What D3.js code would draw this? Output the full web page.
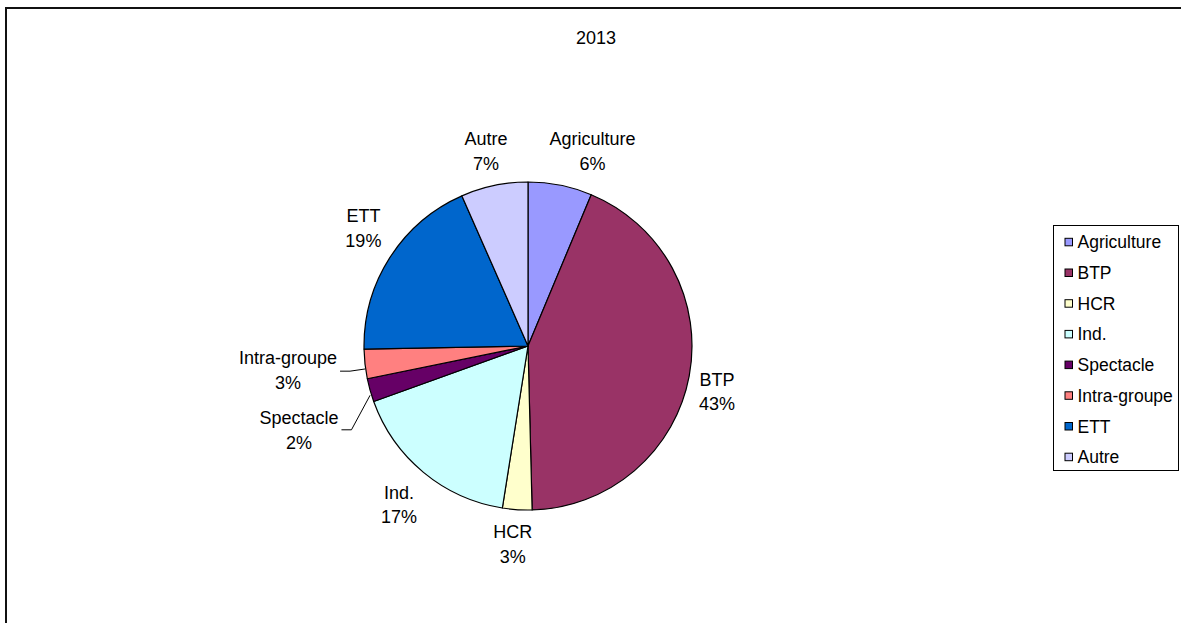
<!DOCTYPE html>
<html>
<head>
<meta charset="utf-8">
<script src="https://cdn.jsdelivr.net/npm/d3@7"></script>
<style>
  html, body { margin: 0; padding: 0; background: #fff; }
  svg { display: block; font-family: Arial, "Liberation Sans", sans-serif; }
</style>
</head>
<body>
<svg id="chart" width="1181" height="623"></svg>
<script>
// ---- data ----
const title = "2013";
const categories = ["Agriculture", "BTP", "HCR", "Ind.", "Spectacle", "Intra-groupe", "ETT", "Autre"];
const values = [6.3, 43.3, 2.9, 17.0, 2.3, 2.9, 18.7, 6.6];
const colors = ["#9999FF", "#993366", "#FFFFCC", "#CCFFFF", "#660066", "#FF8080", "#0066CC", "#CCCCFF"];
// labels manually moved in the original (small shifts, leader lines for the two small slices)
const labelNudge = { "Agriculture": [5, 0], "Autre": [7, 0], "Spectacle": [-22, 17], "Intra-groupe": [-18, -3] };
const leaderLabels = ["Spectacle", "Intra-groupe"];

// ---- layout ----
const cx = 528, cy = 346, R = 164;
const svg = d3.select("#chart");

// outer frame
svg.append("rect").attr("x", 6).attr("y", 8).attr("width", 1400).attr("height", 800)
  .attr("fill", "none").attr("stroke", "#111").attr("stroke-width", 2);

// title
svg.append("text").attr("x", 596).attr("y", 44).attr("text-anchor", "middle")
  .attr("font-size", 18).attr("fill", "#000").text(title);

const data = categories.map((c, i) => ({ name: c, v: values[i], color: colors[i] }));
const total = d3.sum(values);
const pie = d3.pie().sort(null).value(d => d.v);
const arcs = pie(data);
const arc = d3.arc().innerRadius(0).outerRadius(R);

const g = svg.append("g").attr("transform", `translate(${cx},${cy})`);
g.selectAll("path.slice").data(arcs).enter().append("path")
  .attr("class", "slice")
  .attr("d", arc)
  .attr("fill", d => d.data.color)
  .attr("stroke", "#000").attr("stroke-width", 1.2).attr("stroke-linejoin", "round");

// data labels
const clamp = v => Math.max(-1, Math.min(1, v));
const lineH = 24.5;
arcs.forEach(d => {
  const a = (d.startAngle + d.endAngle) / 2;
  const s = Math.sin(a), c = Math.cos(a);
  const ar = R + 10;
  const ax = ar * s, ay = -ar * c;
  const t = g.append("text").attr("font-size", 18).attr("fill", "#000").attr("text-anchor", "middle");
  const l1 = t.append("tspan").text(d.data.name);
  const l2 = t.append("tspan").text(Math.round(d.data.v / total * 100) + "%");
  const w = Math.max(l1.node().getComputedTextLength(), l2.node().getComputedTextLength());
  const h = lineH * 2;
  const nudge = labelNudge[d.data.name] || [0, 0];
  const lx = ax + (w / 2) * clamp(3 * s) + nudge[0];
  const ly = ay + (h / 2) * clamp(-3 * c) + nudge[1];
  l1.attr("x", lx).attr("y", ly - lineH / 2 + 6.5);
  l2.attr("x", lx).attr("y", ly + lineH / 2 + 6.5);
  if (leaderLabels.includes(d.data.name)) {
    const ex = R * s, ey = -R * c + 5;
    const sx = lx + w / 2 + 3, sy = ly + (d.data.name === "Intra-groupe" ? 1 : 0);
    g.append("path")
      .attr("d", `M${sx},${sy} L${sx + 10},${sy} L${ex},${ey}`)
      .attr("fill", "none").attr("stroke", "#000").attr("stroke-width", 1);
  }
});

// legend
const lg = svg.append("g");
lg.append("rect").attr("x", 1053.5).attr("y", 225.5).attr("width", 125).attr("height", 245)
  .attr("fill", "#fff").attr("stroke", "#000").attr("stroke-width", 1);
const ly0 = 242.3, lstep = 30.7;
data.forEach((d, i) => {
  const y = ly0 + i * lstep;
  lg.append("rect").attr("x", 1065).attr("y", y - 4).attr("width", 7.5).attr("height", 7.5)
    .attr("fill", d.color).attr("stroke", "#000").attr("stroke-width", 1);
  lg.append("text").attr("x", 1077.5).attr("y", y + 6).attr("font-size", 17.5).attr("fill", "#000").text(d.name);
});
</script>
</body>
</html>
